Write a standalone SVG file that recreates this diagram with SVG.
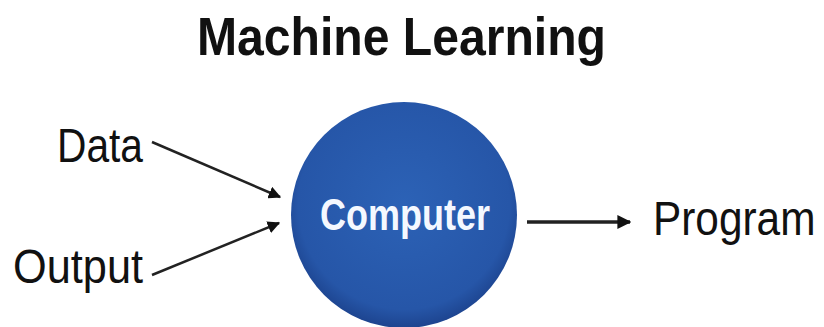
<svg xmlns="http://www.w3.org/2000/svg" width="824" height="327" viewBox="0 0 824 327">
<style>
.lbl{font-family:"Liberation Sans",Arial,sans-serif;fill:#111;}
.conn{stroke:#222;fill:none;}
</style>
<defs>
<radialGradient id="g" cx="50%" cy="45%" r="55%">
<stop offset="0%" stop-color="#2c62b6"/>
<stop offset="85%" stop-color="#2656a8"/>
<stop offset="100%" stop-color="#1d448f"/>
</radialGradient>
<marker id="ah" viewBox="0 0 10 10" refX="9" refY="5" markerWidth="5" markerHeight="5" orient="auto" markerUnits="strokeWidth">
<path d="M0,0 L10,5 L0,10 z" fill="#111"/>
</marker>
<marker id="ah2" viewBox="0 0 10 10" refX="9" refY="5" markerWidth="4" markerHeight="4" orient="auto" markerUnits="strokeWidth">
<path d="M0,0 L10,5 L0,10 z" fill="#111"/>
</marker>
</defs>
<rect width="824" height="327" fill="#fff"/>
<text class="lbl" x="197" y="55" font-size="53" font-weight="bold" textLength="409" lengthAdjust="spacingAndGlyphs">Machine Learning</text>
<g id="connectors">
<line class="conn" x1="152" y1="142" x2="280" y2="197" stroke-width="2.5" marker-end="url(#ah)"/>
<line class="conn" x1="152" y1="275" x2="279" y2="223" stroke-width="2.5" marker-end="url(#ah)"/>
<line class="conn" x1="527" y1="222" x2="630" y2="222" stroke-width="3.5" stroke="#000" marker-end="url(#ah2)"/>
</g>
<g id="computer">
<circle cx="404" cy="215" r="113" fill="url(#g)"/>
<text x="320" y="230" font-family="Liberation Sans,Arial,sans-serif" font-size="45" font-weight="bold" fill="#f4f8ff" textLength="170" lengthAdjust="spacingAndGlyphs">Computer</text>
</g>
<g id="data"><text class="lbl" x="57" y="162" font-size="49" textLength="86" lengthAdjust="spacingAndGlyphs">Data</text></g>
<g id="output"><text class="lbl" x="13" y="283" font-size="49" textLength="130" lengthAdjust="spacingAndGlyphs">Output</text></g>
<g id="program"><text class="lbl" transform="translate(653,235) scale(0.865,1)" x="0" y="0" font-size="49">Program</text></g>
</svg>
